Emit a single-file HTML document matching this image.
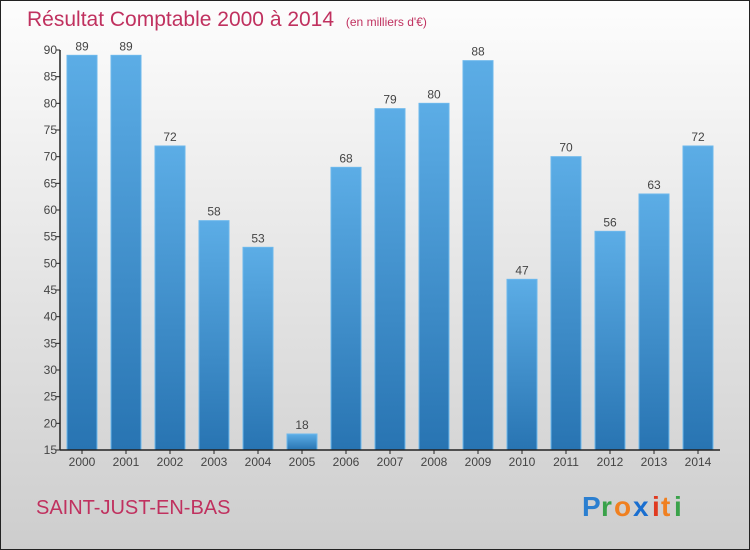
<!DOCTYPE html>
<html><head><meta charset="utf-8"><style>
body{margin:0;}
#c{width:750px;height:550px;position:relative;overflow:hidden;font-family:"Liberation Sans",sans-serif;}
</style></head><body>
<div id="c">
<svg id="svg" width="750" height="550" xmlns="http://www.w3.org/2000/svg">
<defs>
<linearGradient id="bg" x1="0" y1="0" x2="0" y2="1"><stop offset="0" stop-color="#fdfdfd"/><stop offset="1" stop-color="#cdcdcd"/></linearGradient>
<linearGradient id="bar" x1="0" y1="0" x2="0" y2="1"><stop offset="0" stop-color="#5cade6"/><stop offset="1" stop-color="#2874b2"/></linearGradient>
</defs>
<rect x="0.5" y="0.5" width="749" height="549" fill="url(#bg)" stroke="#222"/>
<text x="27" y="26" font-size="21" fill="#c0315f">Résultat Comptable 2000 à 2014 <tspan font-size="12" dx="6">(en milliers d'€)</tspan></text>
<g id="bars"></g>
<g id="axes"></g>
<text x="36" y="514" font-size="20" fill="#c0315f">SAINT-JUST-EN-BAS</text>
<g font-size="28" font-weight="bold">
<text x="582" y="516" fill="#2b7fd0">P</text><text x="601" y="516" fill="#3aa24a">r</text><text x="614" y="516" fill="#f08020">o</text><text x="633" y="516" fill="#1a6fd0">x</text><text x="652" y="516" fill="#e03a20">i</text><text x="661" y="516" fill="#f08020">t</text><text x="674" y="516" fill="#3aa24a">i</text>
</g>
</svg>
</div>
<script>
const years=["2000","2001","2002","2003","2004","2005","2006","2007","2008","2009","2010","2011","2012","2013","2014"];
const values=[89,89,72,58,53,18,68,79,80,88,47,70,56,63,72];
const yTicks=[15,20,25,30,35,40,45,50,55,60,65,70,75,80,85,90];
const NS="http://www.w3.org/2000/svg";
const x0=60,slot=44,yb=450,yt=50,ymin=15,ymax=90;
function y(v){return yb-(v-ymin)*(yb-yt)/(ymax-ymin);}
function xc(i){return x0+slot*i+slot/2;}
function mk(tag,attrs,parent){const e=document.createElementNS(NS,tag);for(const k in attrs)e.setAttribute(k,attrs[k]);parent.appendChild(e);return e;}
const bars=document.getElementById('bars'),axes=document.getElementById('axes');
values.forEach((v,i)=>{
 const r=mk('rect',{x:xc(i)-15,y:y(v),width:30,height:yb-y(v),fill:'url(#bar)',stroke:'#6cb8ec','stroke-width':1},bars);
 
 
 const t=mk('text',{x:xc(i),y:y(v)-5,'text-anchor':'middle','font-size':12,fill:'#444'},bars);
 t.textContent=v;
 
 
 const l=mk('text',{x:xc(i),y:yb+16,'text-anchor':'middle','font-size':12,fill:'#444'},axes);
 l.textContent=years[i];
 
 
 mk('line',{x1:xc(i),y1:yb,x2:xc(i),y2:yb+4,stroke:'#222'},axes);
});
yTicks.forEach(v=>{
 mk('line',{x1:x0-4,y1:y(v),x2:x0,y2:y(v),stroke:'#222'},axes);
 const t=mk('text',{x:x0-3,y:y(v)+4,'text-anchor':'end','font-size':12,fill:'#444'},axes);
 t.textContent=v;
 
 
});
const ya=mk('line',{x1:x0,y1:yt,x2:x0,y2:yb,stroke:'#222','stroke-width':1.5},axes);


const xa=mk('line',{x1:x0,y1:yb,x2:x0+slot*15,y2:yb,stroke:'#222','stroke-width':1.5},axes);


</script>
</body></html>
